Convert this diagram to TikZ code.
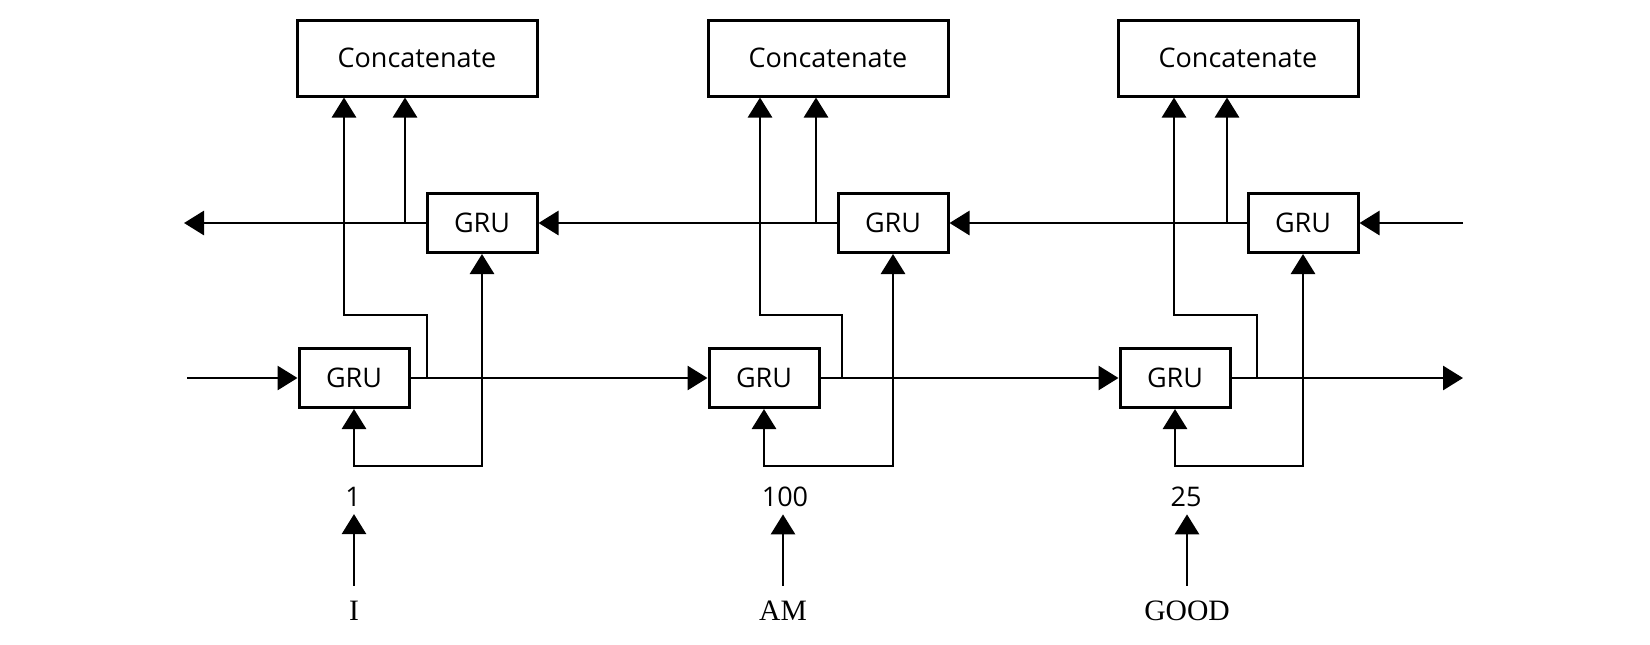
\documentclass[tikz,border=0pt]{standalone}
\usepackage{fontspec}
\setmainfont{Open Sans}
\newfontfamily\serifw{Liberation Serif}
\usetikzlibrary{arrows.meta}
\begin{document}
\begin{tikzpicture}[x=0.5pt,y=-0.5pt, line width=1.45pt,
  box/.style={draw, line width=1.5pt, inner sep=0pt, font=\fontsize{13.5}{15}\selectfont},
  cbox/.style={box, minimum width=120pt, minimum height=38pt},
  gbox/.style={box, minimum width=55pt, minimum height=29.5pt},
  arr/.style={-{Triangle[width=12pt,length=10pt]}},
  arrb/.style={{Triangle[width=12pt,length=10pt]}-{Triangle[width=12pt,length=10pt]}},
  numlbl/.style={inner sep=0pt, font=\fontsize{13.5}{15}\selectfont},
  wordlbl/.style={inner sep=0pt, font=\serifw\fontsize{14.8}{16}\selectfont}
]
\useasboundingbox (0,0) rectangle (1650,644);

% column 1
\node[cbox] (c1) at (417,58) {Concatenate};
\node[gbox] (b1) at (482,223) {GRU};
\node[gbox] (f1) at (354,378) {GRU};
% column 2
\node[cbox] (c2) at (828,58) {Concatenate};
\node[gbox] (b2) at (893,223) {GRU};
\node[gbox] (f2) at (764,378) {GRU};
% column 3
\node[cbox] (c3) at (1238,58) {Concatenate};
\node[gbox] (b3) at (1303,223) {GRU};
\node[gbox] (f3) at (1175,378) {GRU};

% labels
\node[numlbl] (t1) at (353,497) {1};
\node[numlbl] (t2) at (785,497) {100};
\node[numlbl] (t3) at (1186,497) {25};
\node[wordlbl] (w1) at (354,611) {I};
\node[wordlbl] (w2) at (783,611) {AM};
\node[wordlbl] (w3) at (1187,611) {GOOD};

% forward chain
\coordinate (fin) at (187,378);
\coordinate (fout) at (1463,378);
\draw[arr] (fin) -- (f1.west);
\draw[arr] (f1.east) -- (f2.west);
\draw[arr] (f2.east) -- (f3.west);
\draw[arr] (f3.east) -- (fout);

% backward chain
\coordinate (bin) at (1463,223);
\coordinate (bout) at (184,223);
\draw[arr] (bin) -- (b3.east);
\draw[arr] (b3.west) -- (b2.east);
\draw[arr] (b2.west) -- (b1.east);
\draw[arr] (b1.west) -- (bout);

% column 1 links
\coordinate (k1) at (427,378);
\coordinate (m1) at (344,315);
\coordinate (n1) at (405,223);
\coordinate (l1) at (482,466);
\draw[arr] (k1) |- (m1) -- (m1 |- c1.south);
\draw[arr] (n1) -- (n1 |- c1.south);
\draw[arrb] (f1.south) |- (l1) -- (b1.south);
\draw[arr] ([yshift=7pt]w1.north) -- ([yshift=-3pt]w1.north |- t1.south);

% column 2 links
\coordinate (k2) at (842,378);
\coordinate (m2) at (760,315);
\coordinate (n2) at (816,223);
\coordinate (l2) at (893,466);
\draw[arr] (k2) |- (m2) -- (m2 |- c2.south);
\draw[arr] (n2) -- (n2 |- c2.south);
\draw[arrb] (f2.south) |- (l2) -- (b2.south);
\draw[arr] ([yshift=7pt]w2.north) -- ([yshift=-3pt]w2.north |- t2.south);

% column 3 links
\coordinate (k3) at (1257,378);
\coordinate (m3) at (1174,315);
\coordinate (n3) at (1227,223);
\coordinate (l3) at (1303,466);
\draw[arr] (k3) |- (m3) -- (m3 |- c3.south);
\draw[arr] (n3) -- (n3 |- c3.south);
\draw[arrb] (f3.south) |- (l3) -- (b3.south);
\draw[arr] ([yshift=7pt]w3.north) -- ([yshift=-3pt]w3.north |- t3.south);
\end{tikzpicture}
\end{document}
